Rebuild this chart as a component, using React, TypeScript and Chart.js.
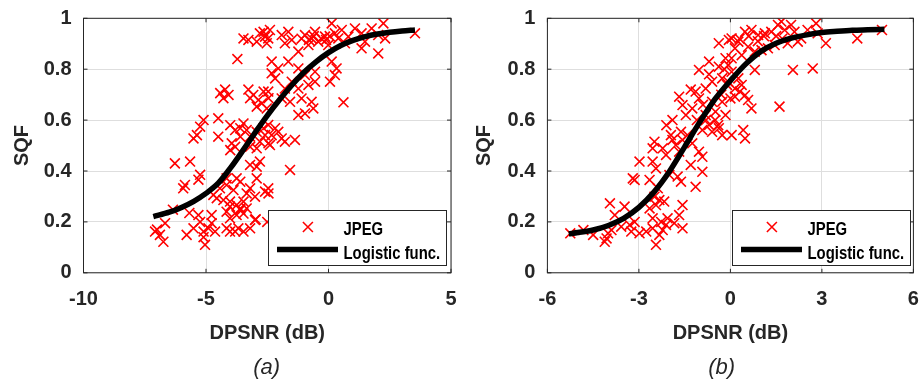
import React, { useEffect, useRef } from "react";
import { Chart, registerables } from "chart.js";

Chart.register(...registerables);

type Pt = [number, number];

// ---------- text ----------
const SERIES_LABELS = ["JPEG", "Logistic func."];
const X_TITLE = "DPSNR (dB)";
const Y_TITLE = "SQF";
const CAPTIONS = ["(a)", "(b)"];

// ---------- tick labels ----------
const A_X_TICKS = [-10, -5, 0, 5];
const B_X_TICKS = [-6, -3, 0, 3, 6];
const Y_TICKS = [0, 0.2, 0.4, 0.6, 0.8, 1];

// ---------- panel (a) data ----------
const A_JPEG: Pt[] = [
  [-3.47, 0.921], [-3.27, 0.915], [-2.93, 0.908], [-2.8, 0.941], [-2.59, 0.928], [-2.52, 0.902], [-2.39, 0.954], [-2.65, 0.947], [-3.72, 0.84],
  [-1.91, 0.934], [-1.64, 0.947], [-1.5, 0.915], [-0.96, 0.934], [-0.69, 0.921], [-0.55, 0.947], [-0.42, 0.908], [-0.14, 0.928], [0.13, 0.98],
  [0.26, 0.941], [0.4, 0.921], [0.54, 0.954], [0.81, 0.928], [1.08, 0.96], [1.35, 0.941], [1.49, 0.908], [1.76, 0.96], [2.03, 0.934], [2.24, 0.98],
  [2.31, 0.921], [1.35, 0.882], [2.03, 0.862], [3.53, 0.941], [-0.82, 0.895], [-0.01, 0.895], [0.67, 0.902], [-1.78, 0.902], [-1.23, 0.869],
  [-2.46, 0.921], [-0.8, 0.915], [-0.6, 0.93], [-0.3, 0.92], [-0.1, 0.915], [0.05, 0.93], [-1.1, 0.92],
  [-2.32, 0.784], [-4.42, 0.706], [-4.22, 0.72], [-4.08, 0.699], [-4.29, 0.686], [-3.27, 0.72], [-3.07, 0.699], [-2.86, 0.679], [-2.65, 0.712],
  [-3.2, 0.686], [-2.72, 0.666], [-2.45, 0.686], [-2.93, 0.653], [-2.52, 0.646],
  [-2.32, 0.83], [-2.05, 0.803], [-1.64, 0.83], [-1.23, 0.803], [-0.96, 0.777], [-0.55, 0.79], [0.13, 0.83], [0.33, 0.803], [0.06, 0.751],
  [0.26, 0.777], [-1.5, 0.751], [-1.78, 0.724], [-1.23, 0.724], [-0.82, 0.738], [-0.55, 0.751], [-2.18, 0.764], [-2.46, 0.712], [-1.91, 0.685],
  [-1.57, 0.672], [-1.1, 0.685], [-0.69, 0.672], [-0.62, 0.646], [-0.96, 0.626], [-1.23, 0.62], [0.61, 0.67],
  [-5.1, 0.6], [-5.24, 0.574], [-5.37, 0.541], [-5.51, 0.528], [-4.5, 0.607], [-4.5, 0.535], [-4.01, 0.58], [-3.81, 0.561], [-3.6, 0.568],
  [-3.47, 0.587], [-3.34, 0.561], [-3.95, 0.509], [-4.01, 0.482], [-3.81, 0.495], [-3.6, 0.535], [-3.2, 0.535], [-2.93, 0.554], [-2.65, 0.568],
  [-2.59, 0.541], [-2.8, 0.515], [-2.45, 0.509], [-3.2, 0.495], [-2.93, 0.489],
  [-2.46, 0.581], [-2.18, 0.568], [-2.05, 0.554], [-1.91, 0.528], [-1.78, 0.515], [-2.32, 0.541], [-1.37, 0.522], [-2.39, 0.502], [-1.57, 0.404],
  [-6.27, 0.43], [-5.65, 0.437], [-5.24, 0.385], [-5.31, 0.366], [-5.86, 0.345], [-5.93, 0.332],
  [-4.16, 0.371], [-3.75, 0.371], [-3.6, 0.358], [-2.93, 0.371], [-2.8, 0.437], [-2.93, 0.417], [-3.2, 0.424], [-4.43, 0.332], [-4.16, 0.345],
  [-3.88, 0.325], [-4.7, 0.306], [-4.56, 0.293], [-4.29, 0.286], [-4.02, 0.28], [-3.75, 0.266], [-3.47, 0.28], [-3.6, 0.253], [-4.02, 0.26],
  [-3.2, 0.332], [-3.34, 0.312], [-3.0, 0.299], [-2.59, 0.319], [-2.45, 0.312],
  [-7.08, 0.162], [-6.88, 0.149], [-6.74, 0.122], [-7.0, 0.17], [-6.67, 0.195], [-5.79, 0.149], [-5.51, 0.175], [-5.31, 0.227], [-5.24, 0.2],
  [-5.1, 0.162], [-5.04, 0.11], [-4.9, 0.175], [-4.77, 0.195], [-4.63, 0.162], [-4.16, 0.175], [-4.02, 0.162], [-3.81, 0.162], [-3.68, 0.175],
  [-3.47, 0.162], [-3.2, 0.175], [-3.0, 0.208], [-4.16, 0.24], [-4.02, 0.214], [-3.75, 0.227], [-3.6, 0.247], [-3.47, 0.233], [-3.34, 0.253],
  [-4.77, 0.227], [-5.1, 0.14], [-2.46, 0.332], [-2.5, 0.2], [-6.35, 0.248], [-5.68, 0.235], [-2.97, 0.21],
];
const A_FIT_X = [-7.15, -6.5, -6.0, -5.5, -5.0, -4.5, -4.0, -3.5, -3.0, -2.5, -2.0, -1.5, -1.0, -0.5, 0.0, 0.5, 1.0, 1.5, 2.0, 2.5, 3.0, 3.53];
const A_FIT_Y = [0.221, 0.238, 0.257, 0.281, 0.312, 0.352, 0.412, 0.48, 0.55, 0.618, 0.68, 0.737, 0.788, 0.83, 0.865, 0.893, 0.913, 0.928, 0.938, 0.945, 0.95, 0.954];

// ---------- panel (b) data ----------
const B_JPEG: Pt[] = [
  [-5.25, 0.155], [-4.82, 0.168], [-4.5, 0.149], [-4.06, 0.135], [-4.01, 0.155], [-3.9, 0.168], [-4.12, 0.122], [-3.79, 0.227], [-3.95, 0.273],
  [-3.47, 0.26], [-3.58, 0.181], [-3.3, 0.188], [-3.14, 0.2], [-3.25, 0.162], [-2.98, 0.155], [-2.76, 0.162], [-2.55, 0.175], [-2.44, 0.11],
  [-2.33, 0.149], [-2.22, 0.168], [-2.27, 0.2], [-2.11, 0.188], [-2.06, 0.214], [-2.55, 0.214], [-2.65, 0.253], [-2.44, 0.266], [-2.33, 0.286],
  [-2.17, 0.28], [-2.49, 0.299], [-1.84, 0.195], [-1.57, 0.175], [-1.57, 0.266], [-1.68, 0.227],
  [-3.14, 0.365], [-3.2, 0.371], [-2.98, 0.437], [-2.55, 0.437], [-2.44, 0.41], [-2.65, 0.365], [-2.38, 0.332], [-2.0, 0.384], [-1.73, 0.378],
  [-1.62, 0.358], [-1.14, 0.338], [-1.3, 0.424], [-0.92, 0.397], [-2.49, 0.515], [-2.55, 0.489], [-2.22, 0.489], [-2.11, 0.463], [-1.95, 0.541],
  [-1.9, 0.522], [-1.79, 0.502], [-1.68, 0.476], [-1.62, 0.554], [-1.57, 0.522], [-1.41, 0.541], [-1.25, 0.509], [-1.03, 0.476], [-0.92, 0.456],
  [-1.68, 0.692], [-1.57, 0.659], [-1.14, 0.712], [-1.03, 0.685], [-1.46, 0.62], [-1.25, 0.646], [-0.81, 0.62], [-0.7, 0.581], [-0.6, 0.554],
  [-0.38, 0.568], [-0.27, 0.541], [-0.92, 0.561], [-0.49, 0.633], [-0.16, 0.62], [-1.03, 0.797], [-0.7, 0.83], [-0.38, 0.81], [-0.27, 0.764],
  [-0.6, 0.751], [-0.81, 0.724], [-0.05, 0.915], [-0.38, 0.902], [-0.16, 0.843], [-0.11, 0.738], [0.0, 0.685], [-0.6, 0.672], [-0.27, 0.672],
  [0.04, 0.921], [0.26, 0.908], [0.48, 0.947], [0.69, 0.954], [0.91, 0.934], [1.13, 0.941], [1.34, 0.947], [1.56, 0.974], [1.67, 0.987],
  [1.78, 0.954], [1.99, 0.974], [2.1, 0.947], [2.32, 0.921], [2.53, 0.954], [2.81, 0.98], [2.86, 0.941], [3.13, 0.902], [4.16, 0.921], [4.97, 0.954],
  [0.15, 0.882], [0.58, 0.888], [1.02, 0.875], [1.45, 0.895], [1.88, 0.902], [2.21, 0.908], [0.04, 0.843], [0.37, 0.855], [0.8, 0.869], [1.23, 0.882],
  [-0.07, 0.816], [0.04, 0.79], [0.26, 0.764], [0.37, 0.738], [0.31, 0.712], [0.15, 0.692], [0.48, 0.698], [0.58, 0.679], [0.69, 0.646],
  [0.8, 0.797], [2.05, 0.797], [2.7, 0.803], [1.61, 0.653], [0.04, 0.541], [0.42, 0.561], [0.48, 0.528], [-0.07, 0.751], [0.15, 0.724],
  [-0.5, 0.6], [-0.4, 0.58], [-0.8, 0.6], [-0.9, 0.66], [-0.3, 0.7], [-0.2, 0.8], [0.3, 0.92], [0.6, 0.93], [0.9, 0.91], [1.1, 0.93],
  [1.5, 0.93], [1.7, 0.92], [-1.9, 0.6], [-2.1, 0.58], [-1.3, 0.72], [-1.1, 0.6], [-0.7, 0.78],
];
const B_FIT_X = [-5.3, -5.0, -4.5, -4.0, -3.5, -3.0, -2.5, -2.0, -1.5, -1.0, -0.5, 0.0, 0.5, 1.0, 1.5, 2.0, 2.5, 3.0, 3.5, 4.0, 4.5, 5.05];
const B_FIT_Y = [0.153, 0.158, 0.168, 0.186, 0.214, 0.257, 0.318, 0.398, 0.495, 0.593, 0.683, 0.755, 0.82, 0.87, 0.902, 0.922, 0.935, 0.944, 0.949, 0.953, 0.955, 0.957];

// ---------- styling ----------
const FONT = "'Liberation Sans', Arial, Helvetica, sans-serif";
const AXIS = "#262626";
const GRID = "#dedede";
const RED = "#ff0000";

interface PanelSpec {
  left: number;
  xMin: number;
  xMax: number;
  xTicks: number[];
  jpeg: Pt[];
  fitX: number[];
  fitY: number[];
  caption: string;
  yAxisWidth: number;
  rightPad: number;
  yTitlePad: number;
  legendX: number;
  captionX: number;
}

const W = 461;
const H = 381;

function Panel({ spec }: { spec: PanelSpec }) {
  const ref = useRef<HTMLCanvasElement>(null);
  useEffect(() => {
    const canvas = ref.current!;
    const decor = {
      id: "matlabDecor",
      afterDraw(chart: any) {
        const ctx = chart.ctx as CanvasRenderingContext2D;
        const { left, right, top, bottom } = chart.chartArea;
        const xs = chart.scales.x;
        const ys = chart.scales.y;
        ctx.save();
        ctx.strokeStyle = AXIS;
        ctx.lineWidth = 1;
        ctx.beginPath();
        for (const v of spec.xTicks) {
          const p = xs.getPixelForValue(v);
          ctx.moveTo(p, bottom);
          ctx.lineTo(p, bottom - 4);
          ctx.moveTo(p, top);
          ctx.lineTo(p, top + 4);
        }
        for (const v of Y_TICKS) {
          const p = ys.getPixelForValue(v);
          ctx.moveTo(left, p);
          ctx.lineTo(left + 4, p);
          ctx.moveTo(right, p);
          ctx.lineTo(right - 4, p);
        }
        ctx.stroke();
        ctx.strokeRect(left, top, right - left, bottom - top);

        // legend
        const lx = spec.legendX;
        const ly = 210.5;
        const lw = 178;
        const lh = 55;
        ctx.fillStyle = "#ffffff";
        ctx.fillRect(lx, ly, lw, lh);
        ctx.strokeStyle = AXIS;
        ctx.lineWidth = 1;
        ctx.strokeRect(lx, ly, lw, lh);
        // marker
        const mx = lx + 39.4;
        const my = ly + 16.5;
        ctx.strokeStyle = RED;
        ctx.lineWidth = 1.6;
        ctx.beginPath();
        ctx.moveTo(mx - 5, my - 5);
        ctx.lineTo(mx + 5, my + 5);
        ctx.moveTo(mx - 5, my + 5);
        ctx.lineTo(mx + 5, my - 5);
        ctx.stroke();
        // line
        ctx.strokeStyle = "#000";
        ctx.lineWidth = 5.5;
        ctx.beginPath();
        ctx.moveTo(lx + 8.5, ly + 39);
        ctx.lineTo(lx + 69.5, ly + 39);
        ctx.stroke();
        // texts
        ctx.fillStyle = "#000";
        ctx.textBaseline = "alphabetic";
        ctx.textAlign = "left";
        ctx.font = `bold 17.5px ${FONT}`;
        const drawSq = (t: string, x: number, y: number) => {
          ctx.save();
          ctx.translate(x, y);
          ctx.scale(0.85, 1);
          ctx.fillText(t, 0, 0);
          ctx.restore();
        };
        drawSq(SERIES_LABELS[0], lx + 75, ly + 24);
        drawSq(SERIES_LABELS[1], lx + 75, ly + 48);

        // caption
        ctx.fillStyle = AXIS;
        ctx.font = `italic 22px ${FONT}`;
        ctx.textAlign = "center";
        ctx.textBaseline = "middle";
        ctx.fillText(spec.caption, spec.captionX, 368);
        ctx.restore();
      },
    };

    const tickFont = { family: FONT, size: 20, weight: "bold" as const };
    const chart = new Chart(canvas, {
      type: "scatter",
      data: {
        datasets: [
          {
            label: SERIES_LABELS[1],
            data: spec.fitX.map((x, i) => ({ x, y: spec.fitY[i] })),
            showLine: true,
            borderColor: "#000000",
            backgroundColor: "#000000",
            borderWidth: 5.5,
            pointRadius: 0,
            cubicInterpolationMode: "monotone",
            borderCapStyle: "butt",
          } as any,
          {
            label: SERIES_LABELS[0],
            data: spec.jpeg.map(([x, y]) => ({ x, y })),
            pointStyle: "crossRot",
            pointRadius: 7,
            borderColor: RED,
            backgroundColor: RED,
            pointBorderWidth: 1.6,
            borderWidth: 1.6,
          } as any,
        ],
      },
      options: {
        animation: false,
        responsive: false,
        devicePixelRatio: 1,
        events: [],
        layout: { padding: { left: 0, right: spec.rightPad, top: 18.3, bottom: 36 } },
        plugins: { legend: { display: false }, tooltip: { enabled: false } },
        scales: {
          x: {
            type: "linear",
            min: spec.xMin,
            max: spec.xMax,
            afterBuildTicks: (s: any) => {
              s.ticks = spec.xTicks.map((v) => ({ value: v }));
            },
            afterFit: (s: any) => {
              s.height = H - 36 - 272.8;
              s.paddingLeft = 0;
              s.paddingRight = 0;
            },
            grid: { color: GRID, lineWidth: 1, drawTicks: false },
            border: { display: false },
            ticks: { font: tickFont, color: AXIS, padding: 15, maxRotation: 0, autoSkip: false },
            title: {
              display: true,
              text: X_TITLE,
              font: tickFont,
              color: AXIS,
              padding: { top: 0, bottom: 0 },
            },
          },
          y: {
            type: "linear",
            min: 0,
            max: 1,
            afterBuildTicks: (s: any) => {
              s.ticks = Y_TICKS.map((v) => ({ value: v }));
            },
            afterFit: (s: any) => {
              s.width = spec.yAxisWidth;
              s.paddingTop = 0;
              s.paddingBottom = 0;
            },
            grid: { color: GRID, lineWidth: 1, drawTicks: false },
            border: { display: false },
            ticks: {
              font: tickFont,
              color: AXIS,
              padding: 12,
              autoSkip: false,
              callback: (v: any) => String(Math.round(Number(v) * 10) / 10),
            },
            title: {
              display: true,
              text: Y_TITLE,
              font: tickFont,
              color: AXIS,
              padding: { top: spec.yTitlePad, bottom: 0 },
            },
          },
        },
      },
      plugins: [decor],
    });
    return () => chart.destroy();
  }, [spec]);
  return (
    <canvas
      ref={ref}
      width={W}
      height={H}
      style={{ position: "absolute", left: spec.left, top: 0, width: W, height: H }}
    />
  );
}

const SPEC_A: PanelSpec = {
  left: 0,
  xMin: -10,
  xMax: 5,
  xTicks: A_X_TICKS,
  jpeg: A_JPEG,
  fitX: A_FIT_X,
  fitY: A_FIT_Y,
  caption: CAPTIONS[0],
  yAxisWidth: 83.5,
  rightPad: W - 451,
  yTitlePad: 10,
  legendX: 268.5,
  captionX: 266.7,
};

const SPEC_B: PanelSpec = {
  left: 461,
  xMin: -6,
  xMax: 6,
  xTicks: B_X_TICKS,
  jpeg: B_JPEG,
  fitX: B_FIT_X,
  fitY: B_FIT_Y,
  caption: CAPTIONS[1],
  yAxisWidth: 86.4,
  rightPad: W - 456,
  yTitlePad: 11.5,
  legendX: 271.5,
  captionX: 260.7,
};

export default function App() {
  return (
    <div style={{ position: "absolute", left: 0, top: 0, width: 922, height: 381, background: "#fff" }}>
      <Panel spec={SPEC_A} />
      <Panel spec={SPEC_B} />
    </div>
  );
}
